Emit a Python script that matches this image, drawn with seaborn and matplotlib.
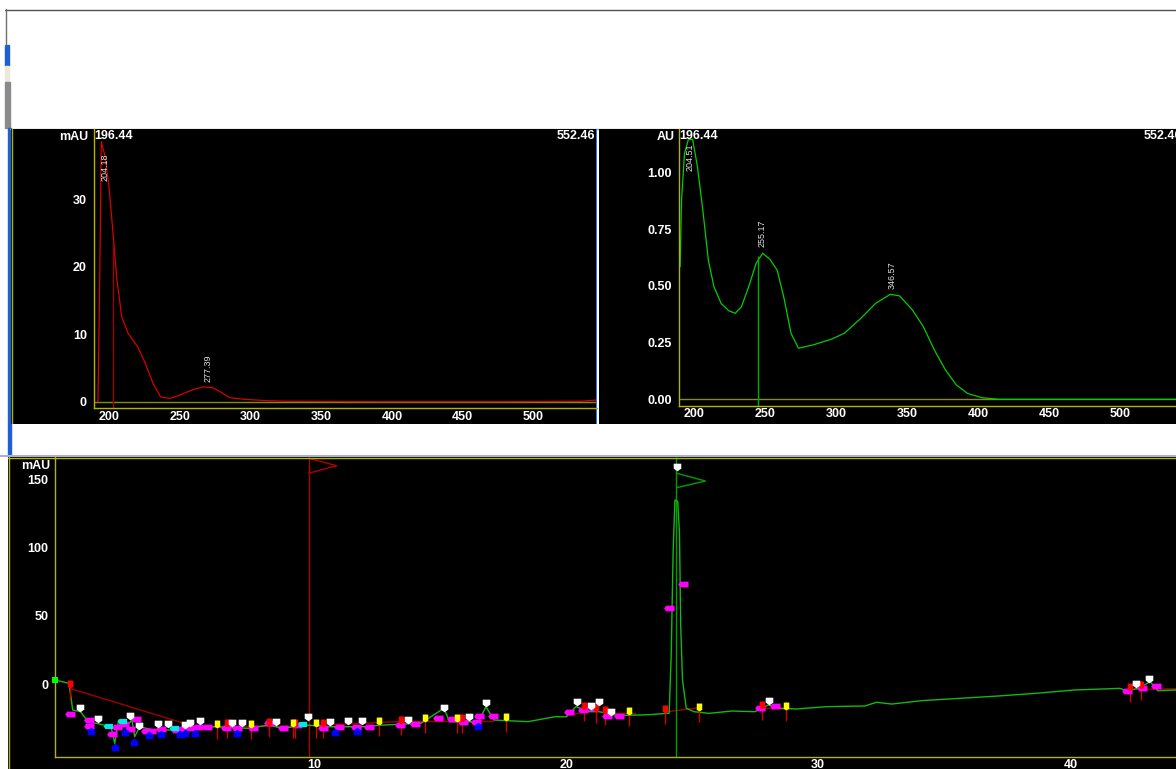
import matplotlib
matplotlib.use("Agg")
import matplotlib.pyplot as plt
import seaborn as sns
import pandas as pd
from matplotlib.patches import Rectangle

# ---- UV spectrum 1 (red, mAU) ----
wl_start, wl_end = 196.44, 552.46
wl1 = [199.4, 200.0, 201.0, 201.8, 204.5, 207.2, 209.9, 212.6, 216.2, 220.8, 227.6,
       232.9, 238.4, 243.8, 250.6, 257.4, 265.5, 273.6, 280.3, 285.7, 292.5, 303.3,
       319.6, 335.0, 400.0, 480.0, 540.0, 552.0]
ab1 = [0.0, 8.0, 23.9, 38.5, 36.3, 31.9, 25.4, 18.5, 12.6, 10.1, 8.1,
       5.7, 2.7, 0.7, 0.5, 1.0, 1.7, 2.2, 2.1, 1.5, 0.6, 0.35,
       0.15, 0.05, 0.0, 0.0, 0.05, 0.25]
peaks1 = [204.18, 277.39]
cursor1 = (210.2, 23.7)

# ---- UV spectrum 2 (green, AU) ----
wl2 = [197.4, 198.4, 200.5, 203.1, 206.2, 209.6, 213.4, 217.3, 221.2, 226.3, 231.6,
       236.2, 240.6, 245.8, 251.0, 255.6, 260.6, 265.8, 270.4, 275.6, 280.8, 291.2,
       304.1, 313.2, 324.8, 335.2, 345.6, 352.1, 361.2, 368.9, 376.7, 384.5, 392.2,
       400.0, 410.3, 422.0, 552.46]
ab2 = [0.585, 0.879, 1.085, 1.144, 1.147, 1.026, 0.835, 0.614, 0.497, 0.423, 0.391,
       0.379, 0.408, 0.497, 0.600, 0.644, 0.618, 0.570, 0.453, 0.291, 0.225, 0.240,
       0.265, 0.291, 0.357, 0.423, 0.463, 0.456, 0.394, 0.320, 0.217, 0.129, 0.063,
       0.026, 0.007, 0.0, 0.0]
peaks2 = [204.51, 255.17, 346.57]
cursor2 = (252.5, 0.63)

# ---- chromatogram (mAU vs min) ----
rt = [0.0, 0.54, 0.62, 0.69, 1.0, 1.30, 1.75, 2.21, 2.36, 2.51, 2.82, 3.04, 3.15, 3.35,
      3.88, 4.64, 5.40, 6.31, 7.68, 8.44, 9.04, 9.96, 10.87, 12.23, 12.99, 14.51, 15.42,
      15.65, 16.79, 17.09, 17.40, 18.76, 19.82, 20.28, 20.66, 21.19, 21.58, 22.33, 23.54,
      24.29, 24.36, 24.44, 24.52, 24.59, 24.70, 24.77, 24.82, 24.89, 25.04, 25.35, 25.95,
      26.85, 27.76, 28.29, 28.81, 29.42, 30.62, 32.13, 32.59, 33.19, 34.39, 35.90, 37.41,
      38.92, 40.43, 42.24, 42.54, 42.99, 43.45, 43.75, 44.47, 45.0]
sig = [2.9, 0.5, -9.3, -19.0, -20.3, -27.6, -29.3, -31.3, -43.5, -26.4, -31.3, -26.4,
       -38.6, -31.3, -33.7, -33.7, -32.5, -31.3, -32.5, -30.1, -32.5, -30.1, -31.3, -31.3,
       -30.1, -28.8, -17.8, -27.6, -27.6, -16.6, -26.4, -27.6, -24.0, -24.0, -16.6, -20.3,
       -20.3, -23.2, -22.5, -21.5, -21.5, 20.0, 98.0, 134.9, 133.7, 110.5, 42.0, 2.9,
       -17.8, -20.3, -21.5, -19.8, -20.3, -15.4, -17.8, -18.3, -16.6, -16.1, -13.4, -14.7,
       -12.2, -10.5, -8.8, -6.8, -4.4, -3.2, -4.9, -3.2, 1.7, -4.9, -4.4, -4.2]

base_segments = [
    ([0.58, 5.55, 9.5, 13.7, 17.4], [-3.2, -31.3, -31.0, -27.5, -27.5]),
    ([20.3, 21.4], [-23.5, -18.5]),
    ([21.9, 23.0], [-21.5, -21.5]),
    ([24.2, 25.5], [-20.5, -17.5]),
    ([28.0, 29.0], [-17.5, -18.5]),
    ([42.5, 44.5], [-4.0, -3.5]),
]

white_t = [0.99, 1.68, 2.97, 3.32, 4.06, 4.49, 5.14, 5.34, 5.75, 7.02, 7.40, 8.77, 10.03,
           10.91, 11.60, 12.19, 14.00, 15.42, 16.42, 17.09, 20.71, 21.27, 21.57, 22.06,
           24.69, 28.32, 42.88, 43.40]
white_m = [-17.8, -25.9, -23.5, -30.8, -29.6, -29.3, -30.1, -28.4, -27.1, -28.8, -28.4,
           -27.6, -24.0, -28.1, -27.1, -27.1, -26.4, -17.8, -24.4, -14.2, -13.4, -15.9,
           -13.0, -20.3, 159.3, -12.2, 0.0, 3.9]
yellow_t = [6.42, 7.78, 9.42, 10.35, 12.86, 14.66, 15.95, 17.88, 22.78, 25.54, 29.01]
yellow_m = [-29.6, -29.6, -28.4, -28.4, -27.1, -24.7, -24.7, -24.0, -19.8, -16.6, -15.9]
red_t = [0.58, 6.80, 8.48, 9.50, 10.64, 13.71, 16.14, 21.0, 21.46, 21.80, 24.19, 28.06,
         42.63, 43.10]
red_m = [-0.2, -28.8, -27.6, -28.4, -28.8, -26.4, -24.7, -16.1, -17.8, -19.1, -18.6,
         -15.4, -2.4, -0.7]
mag_t = [0.58, 1.34, 1.34, 2.25, 2.44, 2.74, 2.97, 3.20, 3.58, 3.80, 4.18, 4.79, 5.02,
         5.40, 5.66, 6.01, 6.77, 7.22, 7.83, 8.48, 9.04, 9.58, 10.64, 11.25, 11.93, 12.46,
         13.68, 14.28, 15.19, 15.73, 16.18, 16.71, 16.83, 17.37, 20.40, 20.96, 21.35,
         21.88, 22.37, 24.34, 24.92, 27.98, 28.56, 42.54, 43.14, 43.67]
mag_m = [-22.0, -26.4, -30.5, -36.9, -31.3, -29.6, -33.2, -25.9, -34.2, -34.5, -33.2,
         -33.7, -33.0, -32.5, -31.8, -31.3, -32.0, -32.0, -32.5, -28.4, -32.0, -30.1,
         -32.0, -31.3, -31.3, -31.3, -30.1, -29.3, -24.7, -25.7, -28.1, -28.1, -23.2,
         -23.2, -20.3, -19.1, -17.8, -23.2, -23.2, 55.5, 73.3, -17.4, -16.1, -4.9, -2.7,
         -1.2]
blue_t = [1.40, 2.36, 2.77, 3.14, 3.70, 4.21, 4.94, 5.15, 5.55, 7.22, 11.09, 11.98, 16.79]
blue_m = [-34.2, -46.0, -35.0, -42.3, -37.4, -36.9, -36.7, -36.2, -35.7, -35.7, -35.4,
          -34.5, -30.8]
cyan_t = [2.10, 2.63, 4.71, 9.80]
cyan_m = [-30.8, -26.9, -32.5, -29.3]

flag_red_t = [10.05, 11.17, 10.05]
flag_red_m = [165.5, 160.0, 154.5]
flag_green_t = [24.65, 25.8, 24.65]
flag_green_m = [154.5, 148.8, 143.9]

AXIS = "#b4b400"
TICK = "#e0e000"
OLIVE = "#8c8c00"

W, H = 1176, 769
sns.set_theme(style="dark")
plt.rcParams["font.family"] = ["Liberation Sans", "DejaVu Sans"]

fig = plt.figure(figsize=(W / 100, H / 100), dpi=100, facecolor="white")


def box(x0, y0, x1, y1):
    return fig.add_axes([x0 / W, 1 - y1 / H, (x1 - x0) / W, (y1 - y0) / H])


# window chrome
bg = box(0, 0, W, H)
bg.set_xlim(0, W)
bg.set_ylim(H, 0)
bg.axis("off")
bg.plot([5, W], [9.5, 9.5], color="#505050", lw=1)
bg.plot([5.5, 5.5], [9, 45], color="#707070", lw=1)
bg.add_patch(Rectangle((5, 45), 4, 21, color="#1c5fd8"))
bg.add_patch(Rectangle((5, 66), 4, 16, color="#ece9d8"))
bg.add_patch(Rectangle((5, 82), 5, 46, color="#8a8a8a"))
bg.add_patch(Rectangle((8, 128), 3, 329, color="#1c5fd8"))
bg.plot([10, W], [128.5, 128.5], color="#a0a0a0", lw=1)
bg.plot([0, W], [455.5, 455.5], color="#a8b0e0", lw=1.5)


def style_axes(ax, x0, y0, x1, y1, xticks, xlabels, yticks, ylabels):
    ax.set_facecolor("black")
    ax.grid(False)
    ax.set_xlabel("")
    ax.set_ylabel("")
    for s in ("top", "right"):
        ax.spines[s].set_visible(False)
    ax.spines["left"].set_position(("data", x0))
    ax.spines["bottom"].set_position(("data", y0))
    ax.spines["left"].set_bounds(y0, y1)
    ax.spines["bottom"].set_bounds(x0, x1)
    for s in ("left", "bottom"):
        ax.spines[s].set_color(AXIS)
        ax.spines[s].set_linewidth(1)
    ax.set_xticks(xticks, xlabels)
    ax.set_yticks(yticks, ylabels)
    ax.tick_params(colors=TICK, labelcolor="white", labelsize=9, direction="out",
                   length=4, width=1)
    ax.tick_params(axis="x", pad=-2.5)
    ax.tick_params(axis="y", pad=1)
    plt.setp(ax.get_xticklabels(), ha="left", fontweight="bold")
    plt.setp(ax.get_yticklabels(), fontweight="bold")


def header(ax, unit, unit_dx):
    kw = dict(xycoords=("data", "axes fraction"), textcoords="offset points",
              va="top", color="white", fontsize=9, fontweight="bold")
    ax.annotate(unit, xy=(wl_start, 1), xytext=(unit_dx, -1.5), ha="right", **kw)
    ax.annotate(f"{wl_start:.2f}", xy=(wl_start, 1), xytext=(0.5, -0.5), ha="left", **kw)
    ax.annotate(f"{wl_end:.2f}", xy=(wl_end, 1), xytext=(-1, -0.5), ha="right", **kw)


# ---- panel 1 ----
ax1 = box(11, 129, 597, 424)
ax1.hlines(0, wl_start, wl_end, color=OLIVE, lw=1)
sns.lineplot(x=wl1, y=ab1, sort=False, estimator=None, color="#d80000", lw=0.9, ax=ax1)
ax1.vlines(cursor1[0], -1.0, cursor1[1], color="#a00000", lw=1)
ax1.set_xlim(137.9, wl_end)
ax1.set_ylim(-3.3, 40.4)
style_axes(ax1, wl_start, -1.0, wl_end, 40.4,
           [wl_start, 200, 250, 300, 350, 400, 450, 500],
           ["", "200", "250", "300", "350", "400", "450", "500"],
           [0, 10, 20, 30], ["0", "10", "20", "30"])
header(ax1, "mAU", -4)
ax1.annotate(f"{peaks1[0]:.2f}", xy=(peaks1[0], 36.8), ha="center", va="top",
             rotation=90, color="#e0e0e0", fontsize=6.5)
ax1.annotate(f"{peaks1[1]:.2f}", xy=(peaks1[1], 2.9), ha="center", va="bottom",
             rotation=90, color="#e0e0e0", fontsize=6.5)
ax1.plot([0.002, 0.002], [0, 1], transform=ax1.transAxes, color=AXIS, lw=1)
ax1.plot([0.9995, 0.9995], [0, 1], transform=ax1.transAxes, color="#3070ff", lw=1.5)

# ---- panel 2 ----
ax2 = box(599, 129, 1190, 424)
ax2.hlines(0, wl_start, wl_end, color=OLIVE, lw=1)
sns.lineplot(x=wl2, y=ab2, sort=False, estimator=None, color="#00d000", lw=0.9, ax=ax2)
ax2.vlines(cursor2[0], -0.03, cursor2[1], color="#00b000", lw=1)
ax2.set_xlim(140.2, 556.9)
ax2.set_ylim(-0.109, 1.192)
style_axes(ax2, wl_start, -0.03, wl_end, 1.192,
           [wl_start, 200, 250, 300, 350, 400, 450, 500],
           ["", "200", "250", "300", "350", "400", "450", "500"],
           [0, 0.25, 0.5, 0.75, 1.0], ["0.00", "0.25", "0.50", "0.75", "1.00"])
header(ax2, "AU", -3)
ax2.annotate(f"{peaks2[0]:.2f}", xy=(peaks2[0], 1.13), ha="center", va="top",
             rotation=90, color="#e0e0e0", fontsize=6.5)
for p, v in zip(peaks2[1:], [0.673, 0.485]):
    ax2.annotate(f"{p:.2f}", xy=(p, v), ha="center", va="bottom",
                 rotation=90, color="#e0e0e0", fontsize=6.5)

# ---- chromatogram ----
ax3 = box(8, 457, 1190, 769)
df = pd.DataFrame({"time": rt, "mAU": sig})
for bt, bm in base_segments:
    ax3.plot(bt, bm, color="#a00000", lw=1)
ax3.vlines(flag_red_t[0], -53.3, 166.4, color="#b00000", lw=1)
ax3.plot(flag_red_t, flag_red_m, color="#b00000", lw=1)
ax3.vlines(flag_green_t[0], -53.3, 166.4, color="#00a000", lw=1)
ax3.plot(flag_green_t, flag_green_m, color="#00a000", lw=1)
sns.lineplot(data=df, x="time", y="mAU", sort=False, estimator=None,
             color="#14b814", lw=1, ax=ax3)

stem_t = red_t + yellow_t
stem_m = red_m + yellow_m
ax3.vlines(stem_t, [v - 11 for v in stem_m], [v + 3 for v in stem_m],
           color="#d00000", lw=1)

down = [(-1, 1), (1, 1), (1, -0.3), (0, -1), (-1, -0.3), (-1, 1)]
up = [(x, -y) for x, y in down]
pill = [(-0.7, 1), (0.7, 1), (0.7, -0.6), (0, -1), (-0.7, -0.6), (-0.7, 1)]
arrow = [(-1.5, 0), (-0.9, 0.8), (1.4, 0.8), (1.4, -0.8), (-0.9, -0.8), (-1.5, 0)]

for tt, mm, col, mk, sz in [
    (mag_t, mag_m, "#ff00ff", arrow, 60),
    (cyan_t, cyan_m, "#00e8e8", arrow, 50),
    (blue_t, blue_m, "#0000ff", up, 30),
    (red_t, red_m, "#ff0000", pill, 32),
    (yellow_t, yellow_m, "#ffff00", pill, 32),
    (white_t, white_m, "#ffffff", down, 30),
]:
    sns.scatterplot(x=tt, y=mm, color=col, marker=mk, s=sz, linewidth=0, ax=ax3,
                    zorder=5)
sns.scatterplot(x=[0.0], y=[3.0], color="#00ff00", marker="s", s=22, linewidth=0,
                ax=ax3, zorder=5)

ax3.set_xlim(-1.877, 45.03)
ax3.set_ylim(-62.3, 166.4)
style_axes(ax3, 0, -53.3, 45.03, 166.4,
           [0, 10, 20, 30, 40], ["", "10", "20", "30", "40"],
           [-50, 0, 50, 100, 150], ["", "0", "50", "100", "150"])
ax3.annotate("mAU", xy=(0, 1), xycoords=("data", "axes fraction"),
             xytext=(-3.8, -2.5), textcoords="offset points", ha="right", va="top",
             color="white", fontsize=9, fontweight="bold")
ax3.plot([0, 1], [0.997, 0.997], transform=ax3.transAxes, color=AXIS, lw=1)
ax3.plot([0.001, 0.001], [0, 1], transform=ax3.transAxes, color=AXIS, lw=1)

fig.savefig("out.png", dpi=100, facecolor="white")
